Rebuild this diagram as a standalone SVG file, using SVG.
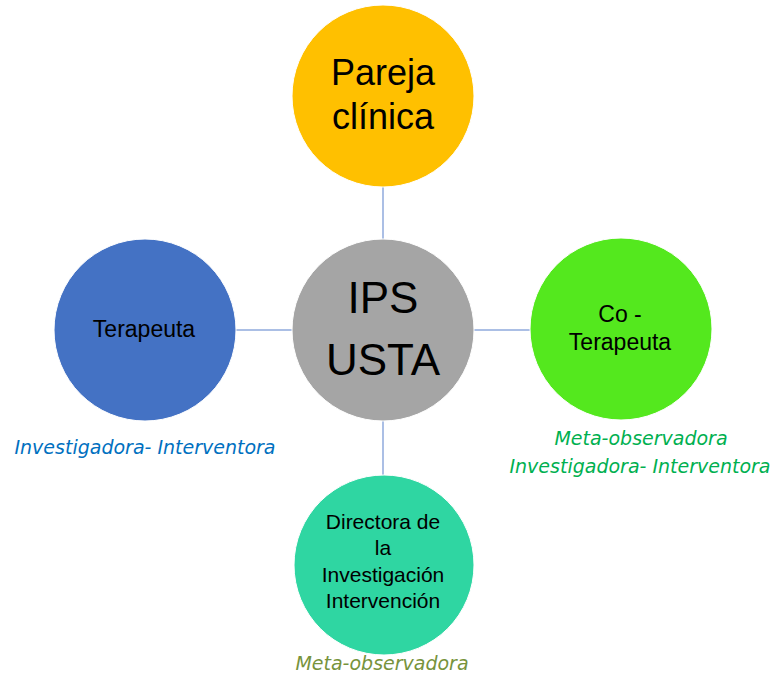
<svg xmlns="http://www.w3.org/2000/svg" width="775" height="675" viewBox="0 0 775 675">
<style>
  .node { stroke: #ffffff; stroke-width: 1; }
  .lbl { font-family: "Liberation Sans", Arial, sans-serif; fill: #000000; text-anchor: middle; }
  .note { font-family: "DejaVu Sans", Verdana, sans-serif; font-style: italic; font-size: 19px; text-anchor: middle; }
  .conn { stroke: #8faadc; stroke-width: 1.5; fill: none; }
</style>
<rect width="775" height="675" fill="#ffffff"/>
<g id="connectors">
  <line class="conn" x1="383" y1="186" x2="383" y2="241"/>
  <line class="conn" x1="236" y1="330" x2="292" y2="330"/>
  <line class="conn" x1="474" y1="330" x2="530" y2="330"/>
  <line class="conn" x1="383" y1="419" x2="383" y2="475"/>
</g>
<g id="node-pareja">
  <circle class="node" cx="383" cy="96" r="91" fill="#ffc000"/>
  <text class="lbl" x="383" y="85" font-size="36">Pareja</text>
  <text class="lbl" x="383" y="129" font-size="36">clínica</text>
</g>
<g id="node-ips">
  <circle class="node" cx="383" cy="330" r="91" fill="#a5a5a5"/>
  <text class="lbl" x="383" y="313" font-size="44">IPS</text>
  <text class="lbl" x="383" y="375" font-size="44">USTA</text>
</g>
<g id="node-terapeuta">
  <circle class="node" cx="145" cy="330" r="91" fill="#4472c4"/>
  <text class="lbl" x="144" y="337" font-size="23">Terapeuta</text>
  <text class="note" x="145" y="454" fill="#0070c0">Investigadora- Interventora</text>
</g>
<g id="node-coterapeuta">
  <circle class="node" cx="621" cy="329" r="91" fill="#54e81e"/>
  <text class="lbl" x="620" y="322" font-size="23">Co -</text>
  <text class="lbl" x="620" y="350" font-size="23">Terapeuta</text>
  <text class="note" x="641" y="445" fill="#00b050">Meta-observadora</text>
  <text class="note" x="640" y="473" fill="#00b050">Investigadora- Interventora</text>
</g>
<g id="node-directora">
  <circle class="node" cx="384" cy="565" r="90" fill="#2fd6a2"/>
  <text class="lbl" x="383" y="529" font-size="21">Directora de</text>
  <text class="lbl" x="383" y="555" font-size="21">la</text>
  <text class="lbl" x="383" y="582" font-size="21">Investigación</text>
  <text class="lbl" x="383" y="608" font-size="21">Intervención</text>
  <text class="note" x="382" y="670" fill="#77933c">Meta-observadora</text>
</g>
</svg>
